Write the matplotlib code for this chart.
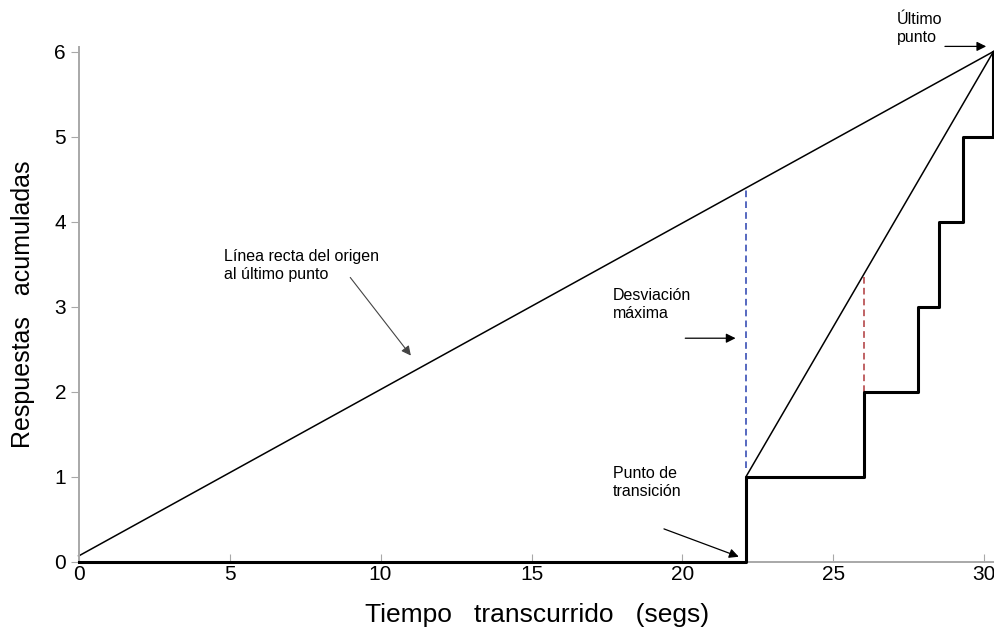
import matplotlib.pyplot as plt

# cumulative record (step function)
step_times = [0, 22.1, 26.0, 27.8, 28.5, 29.3, 30.3]
step_counts = [0, 1, 2, 3, 4, 5, 6]

# straight lines
origin_line_x = [0, 30.3]
origin_line_y = [0.07, 6]
transition_line_x = [22.1, 30.3]
transition_line_y = [1, 6]

# deviation markers
blue_x, blue_y = 22.1, [1.1, 4.39]
red_x, red_y = 26.0, [2.0, 3.38]

xticks = [0, 5, 10, 15, 20, 25, 30]
yticks = [0, 1, 2, 3, 4, 5, 6]

narrow = ["Liberation Sans Narrow", "Liberation Sans", "DejaVu Sans"]
plain = ["Liberation Sans", "DejaVu Sans"]

fig = plt.figure(figsize=(9.95, 6.3), dpi=100)
ax = fig.add_axes([0.079, 0.108, 0.921, 0.817])

# step curve
sx = [0]
sy = [0]
for i in range(1, len(step_times)):
    sx += [step_times[i], step_times[i]]
    sy += [step_counts[i - 1], step_counts[i]]
ax.plot(sx, sy, color="black", linewidth=2.2, clip_on=False, zorder=4)

ax.plot(origin_line_x, origin_line_y, color="black", linewidth=1.1, clip_on=False)
ax.plot(transition_line_x, transition_line_y, color="black", linewidth=1.1, clip_on=False)

ax.plot([blue_x, blue_x], blue_y, color="#3a4fb5", linestyle=(0, (4, 2.5)), linewidth=1.2)
ax.plot([red_x, red_x], red_y, color="#b5484a", linestyle=(0, (4, 2.5)), linewidth=1.2)

ax.set_xlim(0, 30.35)
ax.set_ylim(0, 6.05)
ax.set_xticks(xticks)
ax.set_yticks(yticks)
for lab in ax.get_xticklabels() + ax.get_yticklabels():
    lab.set_family(narrow)
    lab.set_fontsize(15)

for s in ["top", "right"]:
    ax.spines[s].set_visible(False)
for s in ["left", "bottom"]:
    ax.spines[s].set_color("#a8a8a8")
    ax.spines[s].set_linewidth(1.4)
ax.tick_params(axis="x", direction="in", length=6, color="#a8a8a8", pad=2)
ax.tick_params(axis="y", direction="out", length=6, color="#a8a8a8", pad=3)

ax.set_xlabel("Tiempo   transcurrido   (segs)", family=narrow, fontsize=19, labelpad=14)
ax.set_ylabel("Respuestas   acumuladas", family=plain, fontsize=18, labelpad=14)

arrow = dict(arrowstyle="-|>", color="black", lw=0.9, mutation_scale=14)
thin_arrow = dict(arrowstyle="-|>", color="#444444", lw=0.8, mutation_scale=14)

ax.annotate("", xy=(11.06, 2.40), xytext=(8.94, 3.37), arrowprops=thin_arrow)
ax.text(4.8, 3.68, "Línea recta del origen\nal último punto", family=plain,
        fontsize=11.5, va="top", ha="left", linespacing=1.25)

ax.annotate("", xy=(21.85, 2.63), xytext=(20.0, 2.63), arrowprops=arrow)
ax.text(17.7, 3.22, "Desviación\nmáxima", family=plain,
        fontsize=11.5, va="top", ha="left", linespacing=1.25)

ax.annotate("", xy=(21.95, 0.05), xytext=(19.3, 0.4), arrowprops=arrow)
ax.text(17.7, 1.13, "Punto de\ntransición", family=plain,
        fontsize=11.5, va="top", ha="left", linespacing=1.25)

ax.annotate("", xy=(30.15, 6.06), xytext=(28.6, 6.06), arrowprops=arrow,
            annotation_clip=False)
ax.text(27.1, 6.46, "Último\npunto", family=plain, fontsize=11.5,
        va="top", ha="left", linespacing=1.25, clip_on=False)

fig.savefig("out.png", dpi=100)
plt.close(fig)
